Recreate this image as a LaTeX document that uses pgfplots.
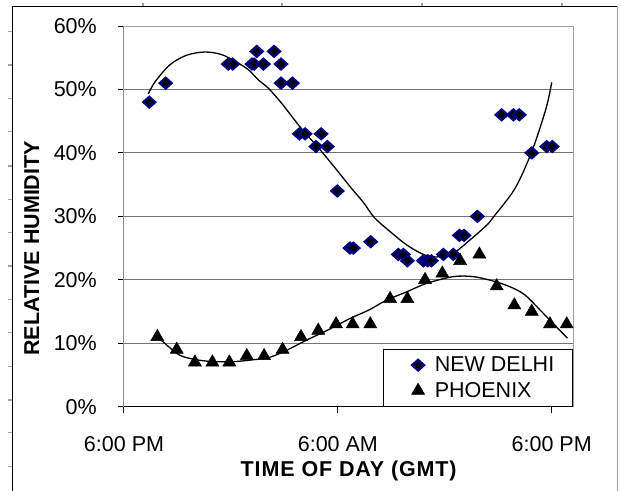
\documentclass[border=0pt]{standalone}
\usepackage{fontspec}
\setmainfont{Liberation Sans}
\usepackage{pgfplots}
\usepackage{pgfplotstable}
\pgfplotsset{compat=1.18}

\definecolor{delhiblue}{RGB}{0,0,128}
\definecolor{gridgray}{RGB}{115,115,115}
\definecolor{boxgray}{RGB}{160,160,160}

% hours after 6:00 PM, relative humidity in percent
\pgfplotstableread{
h rh
1.42 48
2.34 51
5.85 54
6.10 54
7.18 54
7.30 54
7.45 56
7.82 54
8.42 56
8.81 54
8.81 51
9.45 51
9.84 43
10.16 43
10.77 41
11.06 43
11.41 41
11.97 34
12.68 25
12.87 25
13.84 26
15.39 24
15.68 24
15.90 23
16.80 23
17.05 23
17.25 23
17.92 24
18.48 24
18.82 27
19.08 27
19.83 30
21.19 46
21.85 46
22.18 46
22.88 40
23.72 41
24.03 41
}\delhi

\pgfplotstableread{
h rh
1.87 11
2.96 9
3.98 7
4.96 7
5.91 7
6.89 8
7.86 8
8.90 9
9.93 11
10.90 12
11.90 13
12.83 13
13.82 13
14.93 17
15.90 17
16.89 20
17.86 21
18.86 23
19.94 24
20.91 19
21.90 16
22.88 15
23.90 13
24.84 13
}\phoenix

% trend lines
\pgfplotstableread{
h rh
1.36 49.3
1.74 51.2
2.58 53.9
3.52 55.4
4.55 55.9
5.57 55.4
6.89 53.3
7.54 51.5
8.10 50.2
8.85 47.8
9.88 44.1
11.00 40.5
11.94 37.3
12.68 34.7
13.43 32.2
14.05 29.8
14.93 27.6
15.86 25.5
16.80 24.0
17.55 23.6
18.48 24.2
19.42 26.3
20.35 28.6
20.76 30.0
21.94 34.4
22.88 40.2
23.68 47.0
24.00 51.1
}\delhitrend

\pgfplotstableread{
h rh
1.87 11.1
2.20 10.2
3.14 8.1
4.08 7.4
5.01 7.1
6.13 7.1
7.26 7.4
8.19 7.8
9.13 8.9
10.25 10.5
11.38 12.0
12.68 13.9
13.71 15.2
14.74 16.8
15.86 18.1
16.99 19.45
18.48 20.5
19.60 20.5
20.72 19.8
21.66 18.9
22.50 17.6
23.53 14.7
24.88 10.8
}\phoenixtrend

\begin{document}
\begin{tikzpicture}
\useasboundingbox (-124bp,-84.3bp) rectangle (497bp,406.7bp);
% outer frame of the screenshot
\draw[black, line width=1bp] (-111bp,-100bp) -- (-111bp,400.2bp) -- (493bp,400.2bp);
\draw[boxgray, line width=1bp] (493bp,400.2bp) -- (493bp,-100bp);
\foreach \y in {375,341.7,308.4,275,240.7,207.4,174,140.7,107.4,74,40,6.7,-26,-60}
  \draw[boxgray, line width=1.2bp] (-116bp,\y bp) -- (-112bp,\y bp);
\foreach \x in {19,158,298,438}
  \draw[boxgray, line width=1.2bp] (\x bp,403.7bp) -- (\x bp,400.2bp);

\begin{axis}[
  scale only axis,
  width=449.3bp, height=380.7bp,
  xmin=0, xmax=25.21, ymin=0, ymax=60,
  xtick={0,12,24}, xticklabels={6:00 PM,6:00 AM,6:00 PM},
  ytick={0,10,...,60}, yticklabels={0\%,10\%,20\%,30\%,40\%,50\%,60\%},
  tick pos=left, tick align=outside, major tick length=6bp,
  tick style={black, line width=1bp},
  ymajorgrids, grid style={gridgray, line width=1bp},
  axis line style={boxgray, line width=1bp},
  font=\fontsize{21.5bp}{25bp}\selectfont,
  /pgf/number format/assume math mode=true,
  xticklabel style={anchor=base, yshift=-39bp},
  yticklabel style={anchor=east, inner sep=0pt, xshift=-21bp},
  xlabel={\addfontfeature{LetterSpace=4}TIME OF DAY (GMT)},
  ylabel={RELATIVE HUMIDITY},
  xlabel style={font=\bfseries\fontsize{21.5bp}{25bp}\selectfont,
    at={(axis description cs:0.5,-0.1839)}, anchor=base},
  ylabel style={font=\bfseries\fontsize{21.5bp}{25bp}\selectfont,
    at={(axis description cs:-0.2054,0.416)}, anchor=center},
  legend style={at={(rel axis cs:1,0)}, anchor=south east,
    draw=black, line width=1bp, fill=white,
    font=\fontsize{21.5bp}{25bp}\selectfont,
    inner xsep=0pt, inner ysep=7.3bp, row sep=9bp, column sep=0pt,
    nodes={inner sep=0pt, text height=15bp}, cells={anchor=center}},
  markerlegend/.style={legend image code/.code={
    \path[draw=none, fill=none] (-34.3bp,-1bp) rectangle (16.7bp,1bp);
    \draw[##1, draw=none] plot[only marks] coordinates {(0bp,0bp)};}},
]
\addplot[only marks, mark=diamond*, mark size=5.5bp,
  mark options={xscale=1.5, draw=delhiblue, fill=black, line width=2bp},
  markerlegend]
  table[x=h, y=rh] {\delhi};
\addlegendentry{\makebox[138bp][l]{NEW DELHI}}
\addplot[only marks, mark=triangle*, mark size=7.5bp,
  mark options={draw=black, fill=black, line width=0.5bp},
  markerlegend]
  table[x=h, y=rh] {\phoenix};
\addlegendentry{\makebox[138bp][l]{PHOENIX}\rule[-8.4bp]{0pt}{0pt}}

\addplot[forget plot, black, line width=1.3bp, smooth, tension=0.5]
  table[x=h, y=rh] {\delhitrend};
\addplot[forget plot, black, line width=1.3bp, smooth, tension=0.5]
  table[x=h, y=rh] {\phoenixtrend};

\draw[black, line width=1bp] (rel axis cs:0,1) -- (rel axis cs:0,0) -- (rel axis cs:1,0);
\end{axis}
\end{tikzpicture}
\end{document}
